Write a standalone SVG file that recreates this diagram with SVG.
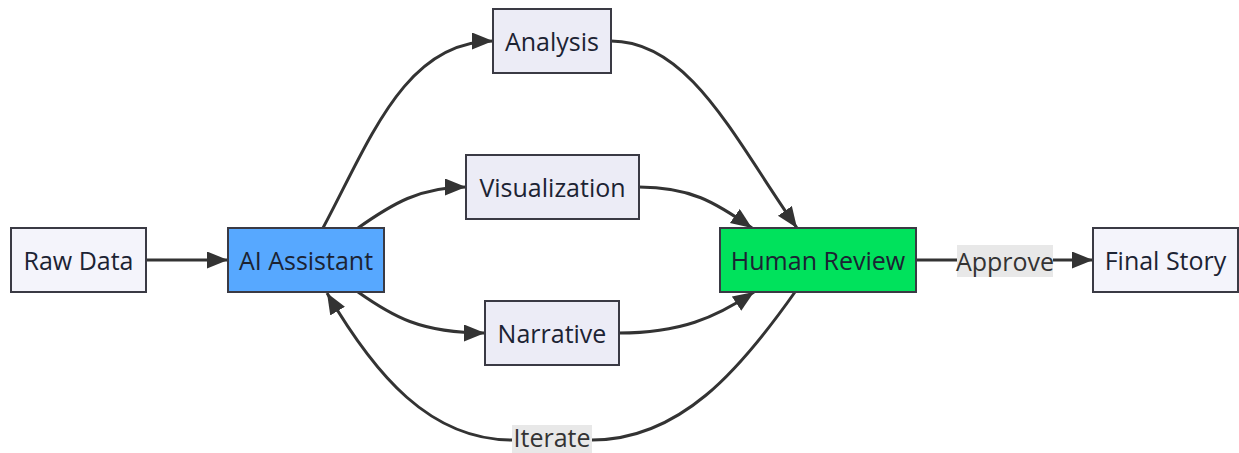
<svg xmlns="http://www.w3.org/2000/svg" width="1239" height="453" viewBox="0 0 1239 453">
<style>
.n rect{fill:#ececf6;stroke:#3a3a44;stroke-width:2}
.n.light rect{fill:#f4f4fb}
.n text,.lbl text{font-family:"Open Sans","Noto Sans",sans-serif;font-size:25px;fill:#1c2333;text-anchor:middle;dominant-baseline:central}
.lbl rect{fill:#e8e8e8;stroke:none}
.lbl text{fill:#333}
.e{fill:none;stroke:#333;stroke-width:3}
</style>
<defs>
<marker id="ah" markerUnits="userSpaceOnUse" markerWidth="24" markerHeight="20" refX="21" refY="8.5" orient="auto">
<path d="M0,0 L21,8.5 L0,17 z" fill="#333"/>
</marker>
</defs>
<g id="connectors">
<path class="e" d="M146,260 L228,260" marker-end="url(#ah)"/>
<path class="e" d="M323,228 C370,140 405,41 493,41" marker-end="url(#ah)"/>
<path class="e" d="M358,228 C392,204 420,187 466,187" marker-end="url(#ah)"/>
<path class="e" d="M358,292 C392,316 420,333 485,333" marker-end="url(#ah)"/>
<path class="e" d="M611,41 C690,41 735,140 797,228" marker-end="url(#ah)"/>
<path class="e" d="M639,187 C690,187 715,202 752,228" marker-end="url(#ah)"/>
<path class="e" d="M619,333 C680,333 715,318 754,292" marker-end="url(#ah)"/>
<path class="e" d="M795,292 C740,370 680,440 592,440 L512,440 C430,440 375,375 327,293" marker-end="url(#ah)"/>
<path class="e" d="M916,260 L1093,260" marker-end="url(#ah)"/>
</g>
<g id="edge-labels">
<g class="lbl" id="lbl-approve"><rect x="957" y="245" width="96" height="32"/><text x="1005" y="261">Approve</text></g>
<g class="lbl" id="lbl-iterate"><rect x="512" y="425" width="80" height="28"/><text x="552" y="437">Iterate</text></g>
</g>
<g id="raw-data" class="n light"><rect x="11" y="228" width="135" height="64"/><text x="78.5" y="260">Raw Data</text></g>
<g id="ai-assistant" class="n"><rect x="228" y="228" width="156" height="64" style="fill:#57a8ff"/><text x="306" y="260">AI Assistant</text></g>
<g id="analysis" class="n"><rect x="493" y="9" width="118" height="64"/><text x="552" y="41">Analysis</text></g>
<g id="visualization" class="n"><rect x="466" y="155" width="173" height="64"/><text x="552.5" y="187">Visualization</text></g>
<g id="narrative" class="n"><rect x="485" y="301" width="134" height="64"/><text x="552" y="333">Narrative</text></g>
<g id="human-review" class="n"><rect x="720" y="228" width="196" height="64" style="fill:#00e25c"/><text x="818" y="260">Human Review</text></g>
<g id="final-story" class="n light"><rect x="1093" y="228" width="145" height="64"/><text x="1165.5" y="260">Final Story</text></g>
</svg>
